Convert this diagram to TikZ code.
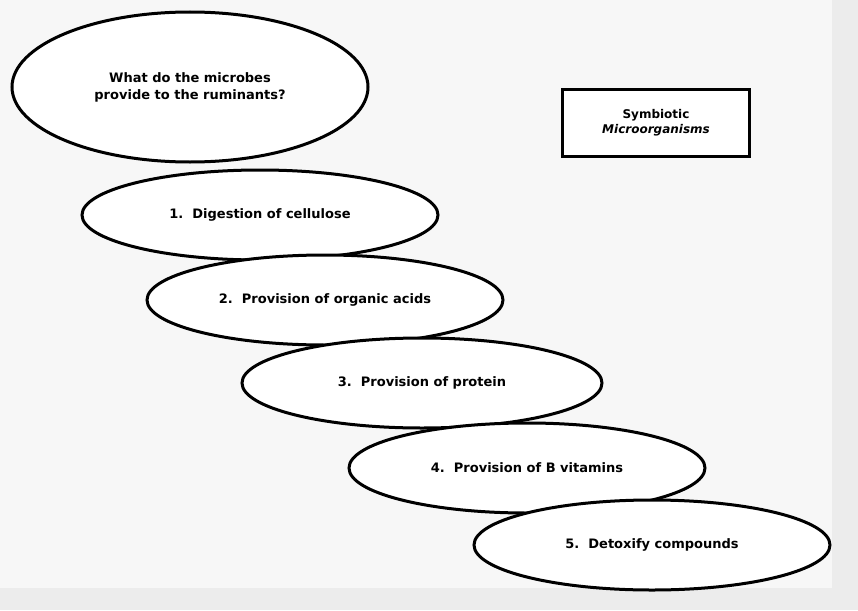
\documentclass[tikz,border=0pt]{standalone}
\usepackage{fontspec}
\setmainfont{DejaVu Sans}
\usetikzlibrary{shapes.geometric}
\tikzset{
  oval/.style={ellipse, draw=black, line width=3pt, fill=white, inner sep=0pt, font=\bfseries\fontsize{13}{17}\selectfont, align=center},
}
\begin{document}
\begin{tikzpicture}[x=1pt,y=-1pt]
\useasboundingbox (0,0) rectangle (858,610);
\fill[gray!15] (0,0) rectangle (858,610);
\fill[gray!6] (0,0) rectangle (832,588);
\node[oval, minimum width=356pt, minimum height=150pt] (q) at (190,87) {What do the microbes\\provide to the ruminants?};
\node[oval, minimum width=356pt, minimum height=90pt] (a) at (260,215) {1.\ \ Digestion of cellulose};
\node[oval, minimum width=356pt, minimum height=90pt] (b) at (325,300) {2.\ \ Provision of organic acids};
\node[oval, minimum width=360pt, minimum height=90pt] (c) at (422,383) {3.\ \ Provision of protein};
\node[oval, minimum width=356pt, minimum height=90pt] (d) at (527,468) {4.\ \ Provision of B vitamins};
\node[oval, minimum width=356pt, minimum height=90pt] (e) at (652,545) {5.\ \ Detoxify compounds};
\node[draw, line width=2.2pt, fill=white, minimum width=187pt, minimum height=67pt, align=center, font=\bfseries\fontsize{12}{15}\selectfont] (s) at (656,123) {Symbiotic\\\itshape Microorganisms};
\end{tikzpicture}
\end{document}
